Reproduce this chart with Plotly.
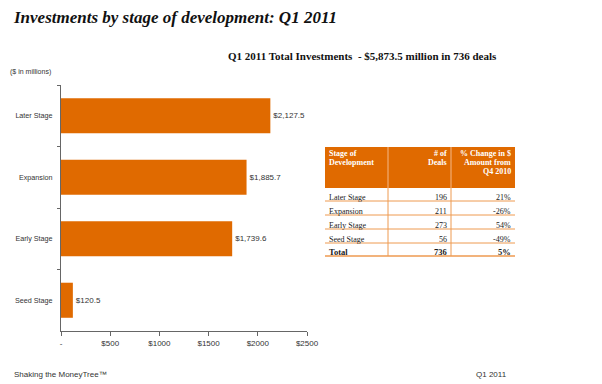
import plotly.graph_objects as go

stages = ["Later Stage", "Expansion", "Early Stage", "Seed Stage"]
amounts = [2127.5, 1885.7, 1739.6, 120.5]
amount_labels = ["$2,127.5", "$1,885.7", "$1,739.6", "$120.5"]
x_tickvals = [0, 500, 1000, 1500, 2000, 2500]
x_ticktext = ["-", "$500", "$1000", "$1500", "$2000", "$2500"]

table_stages = ["Later Stage", "Expansion", "Early Stage", "Seed Stage", "Total"]
table_deals = ["196", "211", "273", "56", "736"]
table_change = ["21%", "-26%", "54%", "-49%", "5%"]
table_header = ["Stage of<br>Development", "# of<br>Deals",
                "% Change in $<br>Amount from<br>Q4 2010"]

ORANGE = "#E06A00"
LINE = "#EE9A50"
W, H = 602, 384
OFF = 8  # page body margin in the browser


def px(x):
    return (x - OFF) / W


def py(y):
    return 1 - (y - OFF) / H


fig = go.Figure()
fig.add_trace(go.Bar(
    x=amounts, y=stages, orientation="h",
    marker=dict(color=ORANGE, line=dict(width=0)),
    text=amount_labels, textposition="outside",
    textfont=dict(family="Liberation Sans", size=8, color="#333"),
    cliponaxis=False, width=0.57,
))

fig.update_layout(
    width=W, height=H,
    margin=dict(l=0, r=0, t=0, b=0),
    paper_bgcolor="white", plot_bgcolor="white",
    showlegend=False,
    xaxis=dict(domain=[px(61), px(307)], range=[0, 2500],
               tickvals=x_tickvals, ticktext=x_ticktext, automargin=False,
               showgrid=False, zeroline=False, showline=True, linecolor="#666",
               ticks="outside", ticklen=4, tickcolor="#666",
               tickfont=dict(family="Liberation Sans", size=8, color="#333")),
    yaxis=dict(domain=[py(331), py(85)], automargin=False,
               categoryorder="array", categoryarray=stages, autorange="reversed",
               showgrid=False, zeroline=False, showline=True, linecolor="#666",
               ticks="outside", ticklen=3, tickcolor="#666", tickson="boundaries",
               ticklabelstandoff=6,
               tickfont=dict(family="Liberation Sans", size=7.2, color="#333")),
    font=dict(family="Liberation Sans"),
)


def add_text(text, x, y, size, family, color, xanchor="left"):
    fig.add_annotation(text=text, xref="paper", yref="paper",
                       x=px(x), y=py(y), showarrow=False,
                       xanchor=xanchor, yanchor="middle",
                       font=dict(family=family, size=size, color=color))


add_text("<b><i>Investments by stage of development: Q1 2011</i></b>",
         11, 18, 17, "Liberation Serif", "#111")
add_text("<b>Q1 2011 Total Investments  - $5,873.5 million in 736 deals</b>",
         226, 56, 11, "Liberation Serif", "#111")
add_text("($ in millions)", 8, 72, 7, "Liberation Sans", "#333")
add_text("Shaking the MoneyTree\u2122", 12, 374, 8, "Liberation Sans", "#333")
add_text("Q1 2011", 474, 374, 8, "Liberation Sans", "#333")

# ---- table ----
t_left, t_right = 325, 515
col_div = [388, 451]
head_top, head_bot = 147, 188
row_centers = [197, 211, 225, 239, 252]
row_lines = [201, 215, 229, 243, 256]
col_x = [327, 449, 513]
col_anchor = ["left", "right", "right"]

fig.add_shape(type="rect", xref="paper", yref="paper",
              x0=px(t_left), x1=px(t_right), y0=py(head_bot), y1=py(head_top),
              fillcolor=ORANGE, line=dict(width=0), layer="below")
for xd in col_div:
    fig.add_shape(type="line", xref="paper", yref="paper",
                  x0=px(xd), x1=px(xd), y0=py(head_top), y1=py(head_bot),
                  line=dict(color="#F4B888", width=1))
    fig.add_shape(type="line", xref="paper", yref="paper",
                  x0=px(xd), x1=px(xd), y0=py(head_bot), y1=py(row_lines[-1]),
                  line=dict(color=LINE, width=1))
for i, yl in enumerate(row_lines):
    fig.add_shape(type="line", xref="paper", yref="paper",
                  x0=px(t_left), x1=px(t_right), y0=py(yl), y1=py(yl),
                  line=dict(color=LINE, width=1.5 if i == len(row_lines) - 1 else 1))

for c, head in enumerate(table_header):
    for k, line in enumerate(head.split("<br>")):
        add_text("<b>%s</b>" % line, col_x[c], 154 + 9 * k, 8,
                 "Liberation Serif", "white", col_anchor[c])

for c, col in enumerate([table_stages, table_deals, table_change]):
    for r, val in enumerate(col):
        txt = "<b>%s</b>" % val if r == len(col) - 1 else val
        add_text(txt, col_x[c], row_centers[r], 8.5 if r == len(col) - 1 else 8,
                 "Liberation Serif", "#1a1a1a", col_anchor[c])

fig.write_html("out.html")
